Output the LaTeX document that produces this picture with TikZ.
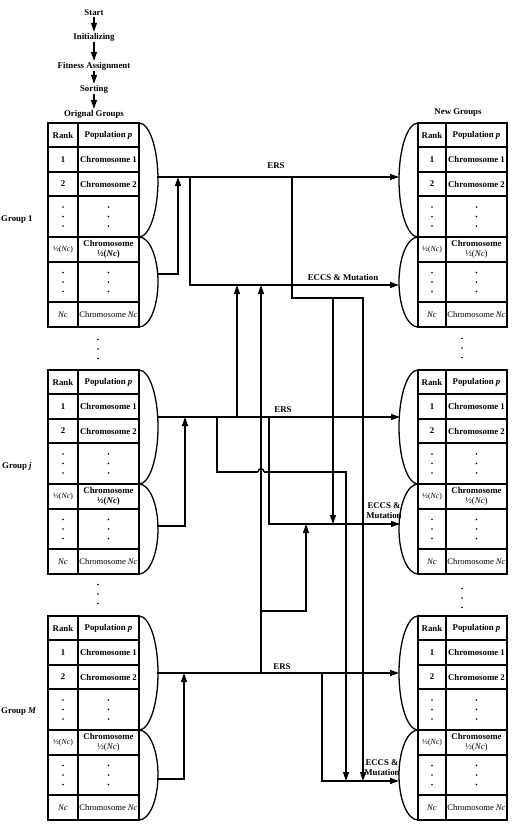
\documentclass[tikz,border=0pt]{standalone}
\usepackage{fontspec}
\setmainfont{Liberation Serif}
\usetikzlibrary{arrows.meta}
\tikzset{
  tbl/.style={line width=1.6pt},
  brc/.style={line width=1.3pt},
  conn/.style={line width=1.3pt},
  arr/.style={conn,-{Triangle[length=9pt,width=6pt]}},
  lbl/.style={font=\fontsize{8.8}{10}\selectfont\bfseries, inner sep=1pt, align=center},
  cellbold/.style={font=\fontsize{8.8}{10}\selectfont\bfseries, inner sep=0pt, align=center},
  cellreg/.style={font=\fontsize{8.6}{10}\selectfont, inner sep=0pt, align=center},
  cellsmall/.style={font=\fontsize{7.8}{10}\selectfont, inner sep=0pt, align=center},
  dotm/.style={circle, fill, inner sep=0pt, minimum size=1.6pt},
}
\newcommand{\vdotsat}[2]{%
  \node[dotm] at ({#1},{#2-9.5}) {};
  \node[dotm] at ({#1},{#2}) {};
  \node[dotm] at ({#1},{#2+9.5}) {};}
% #1 prefix, #2 col1 width, #3 total width, #4 font of 2nd line
\newcommand{\tablebody}[4]{%
  \draw[tbl] (0,0) rectangle (#3,204);
  \draw[tbl] (#2,0) -- (#2,204);
  \foreach \rr in {24,49,73,114,139,179} {\draw[tbl] (0,\rr) -- (#3,\rr);}
  \node[cellbold] (#1-r0) at ({#2/2},12) {Rank};
  \node[cellbold] (#1-p0) at ({(#2+#3)/2},12) {Population \textit{p}};
  \node[cellbold] (#1-r1) at ({#2/2},36.5) {1};
  \node[cellbold] (#1-p1) at ({(#2+#3)/2},36.5) {Chromosome 1};
  \node[cellbold] (#1-r2) at ({#2/2},61) {2};
  \node[cellbold] (#1-p2) at ({(#2+#3)/2},61) {Chromosome 2};
  \vdotsat{#2/2}{93.5}
  \vdotsat{(#2+#3)/2}{93.5}
  \node[cellsmall] (#1-r4) at ({#2/2},126.5) {½(\textit{Nc})};
  \node[cellbold] (#1-p4) at ({(#2+#3)/2},126.5) {Chromosome\\{#4½(\textit{Nc})}};
  \vdotsat{#2/2}{159}
  \vdotsat{(#2+#3)/2}{159}
  \node[cellreg] (#1-r6) at ({#2/2},191.5) {\textit{Nc}};
  \node[cellreg] (#1-p6) at ({(#2+#3)/2},191.5) {Chromosome \textit{Nc}};
}
% braces: #1 base x, #2 bulge (signed)
\newcommand{\braces}[2]{%
  \draw[brc] (#1,0) .. controls ({#1+0.5523*#2},0) and ({#1+#2},25.5) .. ({#1+#2},57)
     .. controls ({#1+#2},88.5) and ({#1+0.5523*#2},114) .. (#1,114);
  \draw[brc] (#1,114) .. controls ({#1+0.5523*#2},114) and ({#1+#2},134.1) .. ({#1+#2},159)
     .. controls ({#1+#2},183.9) and ({#1+0.5523*#2},204) .. (#1,204);
}
\begin{document}
\begin{tikzpicture}[x=1pt,y=-1pt]
\useasboundingbox (0,0) rectangle (513,825);
% top flow
\node[lbl] (start) at (94,13) {Start};
\node[lbl] (init) at (94,37) {Initializing};
\node[lbl] (fit) at (94,66) {Fitness Assignment};
\node[lbl] (sort) at (94,89) {Sorting};
\node[lbl] (orig) at (94,114) {Orignal Groups};
\node[lbl] (new) at (458,113) {New Groups};
\draw[arr] (start) -- (init);
\draw[arr] (init) -- (fit);
\draw[arr] (fit) -- (sort);
\draw[arr] (sort) -- (orig);
% group labels
\node[lbl, anchor=west, inner sep=0pt] (g1) at (1,220) {Group 1};
\node[lbl, anchor=west, inner sep=0pt] (gj) at (2,466) {Group \textit{j}};
\node[lbl, anchor=west, inner sep=0pt] (gM) at (1,712) {Group \textit{M}};
% tables
\begin{scope}[shift={(48,123)}]\tablebody{L1}{30}{91}{\bfseries}\braces{91}{19}\end{scope}
\begin{scope}[shift={(48,370)}]\tablebody{Lj}{30}{91}{\bfseries}\braces{91}{19}\end{scope}
\begin{scope}[shift={(48,616)}]\tablebody{LM}{30}{91}{\mdseries}\braces{91}{19}\end{scope}
\begin{scope}[shift={(418,123)}]\tablebody{R1}{28}{89}{\mdseries}\braces{0}{-19}\end{scope}
\begin{scope}[shift={(418,370)}]\tablebody{Rj}{28}{89}{\mdseries}\braces{0}{-19}\end{scope}
\begin{scope}[shift={(418,616)}]\tablebody{RM}{28}{89}{\mdseries}\braces{0}{-19}\end{scope}
% between-group dots
\vdotsat{98}{349}
\vdotsat{462}{348}
\vdotsat{98}{594}
\vdotsat{462}{598}
% coordinates
\coordinate (L1a) at (157,177); \coordinate (R1a) at (399,177);
\coordinate (L1b) at (157,274); \coordinate (U1) at (178,177);
\coordinate (B1) at (190,177);  \coordinate (R1b) at (399,285);
\coordinate (C1) at (292,177);  \coordinate (K1) at (363,298); \coordinate (K2) at (333,298);
\coordinate (T1) at (237,285);  \coordinate (T2) at (261,285);
\coordinate (Lja) at (157,417); \coordinate (Rja) at (400,417);
\coordinate (Ljb) at (157,526); \coordinate (Uj) at (185,417);
\coordinate (Bj) at (217,417);  \coordinate (Rjb) at (400,524);
\coordinate (Cj) at (269,417);  \coordinate (Fj) at (237,417);
\coordinate (H0) at (217,472);
\coordinate (H1) at (258,472);  \coordinate (H2) at (264,472); \coordinate (Hj) at (346,472);
\coordinate (Dj) at (333,524);  \coordinate (S1) at (261,611); \coordinate (S2) at (306,611);
\coordinate (Sj) at (306,524);
\coordinate (LMa) at (157,673); \coordinate (RMa) at (399,673);
\coordinate (LMb) at (157,779); \coordinate (UM) at (184,673);
\coordinate (BM) at (322,673);  \coordinate (RMb) at (399,781);
\coordinate (FM) at (261,673);
\coordinate (DM1) at (346,781); \coordinate (DM2) at (363,781);
% group 1 connectors
\draw[arr] (L1a) -- (R1a);
\draw[arr] (L1b) -| (U1);
\draw[arr] (B1) |- (R1b);
\draw[arr] (C1) |- (K1) -- (DM2);
\draw[arr] (K2) -- (Dj);
\draw[arr] (Fj) -- (T1);
\draw[arr] (FM) -- (T2);
\node[lbl] (ers1) at (276,166) {ERS};
\node[lbl] (ecc1) at (343,277) {ECCS \& Mutation};
% group j connectors
\draw[arr] (Lja) -- (Rja);
\draw[arr] (Ljb) -| (Uj);
\draw[conn] (Bj) -- (H0) -- (H1);
\draw[conn] (H1) .. controls (258,467.5) and (264,467.5) .. (H2);
\draw[arr] (H2) -- (Hj) -- (DM1);
\draw[arr] (Cj) |- (Rjb);
\draw[arr] (S1) -- (S2) -- (Sj);
\node[lbl] (ersj) at (283,410) {ERS};
\node[lbl] (eccj) at (384,511) {ECCS \&\\Mutation};
% group M connectors
\draw[arr] (LMa) -- (RMa);
\draw[arr] (LMb) -| (UM);
\draw[arr] (BM) |- (RMb);
\node[lbl] (ersM) at (282,667) {ERS};
\node[lbl] (eccM) at (382,768) {ECCS \&\\Mutation};
\end{tikzpicture}
\end{document}
